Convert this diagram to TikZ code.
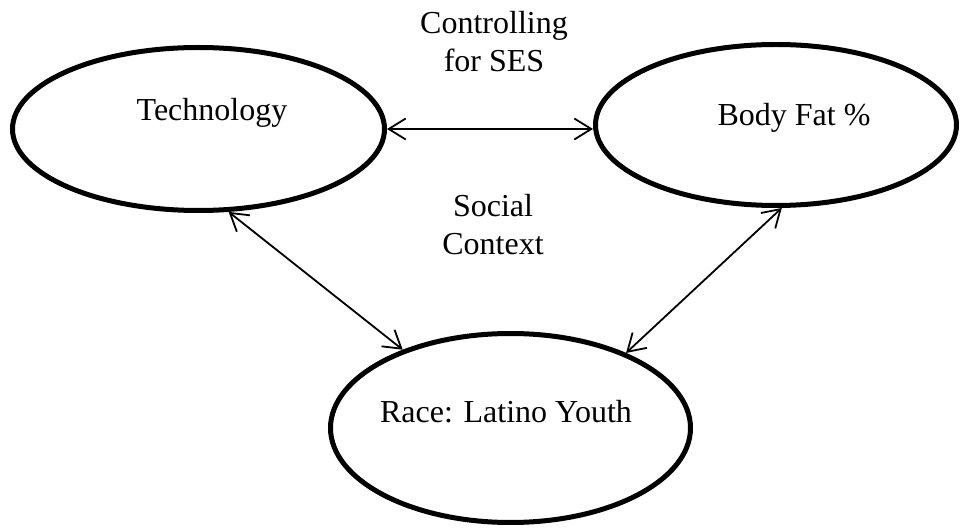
\documentclass[tikz,border=0pt]{standalone}
\usepackage{fontspec}
\setmainfont{Liberation Serif}
\usetikzlibrary{shapes.geometric,arrows.meta}
\begin{document}
\begin{tikzpicture}[x=1pt,y=-1pt,
  oval/.style={draw,ellipse,line width=5pt,inner sep=0pt},
  lbl/.style={font=\fontsize{32}{38}\selectfont,inner sep=0pt,align=center},
  link/.style={line width=1.8pt,{Straight Barb[length=17pt,width=21pt]}-{Straight Barb[length=17pt,width=21pt]}}]
\useasboundingbox (0,0) rectangle (962,529);
\node[oval,minimum width=372pt,minimum height=163pt] (tech) at (198.5,129) {};
\node[oval,minimum width=361pt,minimum height=161pt] (fat) at (776,125) {};
\node[oval,minimum width=360pt,minimum height=189pt] (race) at (510.5,428) {};
\node[lbl] (ttech) at (212,113) {Technology};
\node[lbl] (tfat) at (794,118) {Body Fat \%};
\node[lbl] (trace) at (506,412) {Race: Latino Youth};
\node[lbl] (ctrl) at (494,42) {Controlling\\for SES};
\node[lbl] (soc) at (493,225) {Social\\Context};
\draw[link] (tech.east) -- (tech.east -| fat.west);
\draw[link] (tech.-70.5) -- (race.144.6);
\draw[link] (fat.-86.7) -- (race.33.3);
\end{tikzpicture}
\end{document}
